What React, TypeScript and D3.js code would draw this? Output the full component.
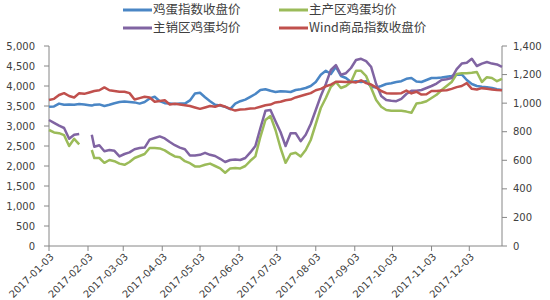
import React from "react";
import * as d3 from "d3";

const dates = [
  "2017-01-03","2017-01-07","2017-01-11","2017-01-15","2017-01-19","2017-01-23","2017-01-27","2017-01-31",
  "2017-02-04","2017-02-06","2017-02-08","2017-02-12","2017-02-16","2017-02-20","2017-02-24","2017-02-28",
  "2017-03-04","2017-03-08","2017-03-12","2017-03-16","2017-03-20","2017-03-24","2017-03-28","2017-04-01",
  "2017-04-05","2017-04-09","2017-04-13","2017-04-17","2017-04-21","2017-04-25","2017-04-29","2017-05-03",
  "2017-05-07","2017-05-11","2017-05-15","2017-05-19","2017-05-23","2017-05-27","2017-05-31","2017-06-04",
  "2017-06-08","2017-06-12","2017-06-16","2017-06-20","2017-06-24","2017-06-28","2017-07-02","2017-07-06",
  "2017-07-10","2017-07-14","2017-07-18","2017-07-22","2017-07-26","2017-07-30","2017-08-03","2017-08-07",
  "2017-08-11","2017-08-15","2017-08-19","2017-08-23","2017-08-27","2017-08-31","2017-09-04","2017-09-08",
  "2017-09-12","2017-09-16","2017-09-20","2017-09-24","2017-09-28","2017-10-02","2017-10-06","2017-10-10",
  "2017-10-14","2017-10-18","2017-10-22","2017-10-26","2017-10-30","2017-11-03","2017-11-07","2017-11-11",
  "2017-11-15","2017-11-19","2017-11-23","2017-11-27","2017-12-01","2017-12-05","2017-12-09","2017-12-13",
  "2017-12-17","2017-12-21","2017-12-25","2017-12-29"
];

const eggIndex = [
  3480,3490,3560,3530,3540,3530,3550,3540,3520,3510,3530,3540,3500,3530,3570,3600,
  3610,3600,3590,3560,3600,3690,3730,3620,3570,3560,3550,3560,3560,3640,3810,3830,
  3720,3620,3530,3510,3480,3420,3560,3620,3660,3730,3800,3900,3920,3880,3850,3870,
  3860,3850,3900,3920,3950,4000,4100,4280,4380,4300,4480,4250,4200,4100,4120,4100,
  4120,3980,3960,4000,4050,4070,4100,4120,4180,4200,4110,4100,4150,4200,4200,4210,
  4230,4250,4280,4290,4150,4050,4000,3980,3970,3950,3920,3900
];

const mainProd: (number | null)[] = [
  2900,2840,2820,2770,2500,2680,2540,null,null,2400,2200,2200,2080,2150,2120,2060,
  2030,2100,2200,2250,2300,2450,2450,2440,2390,2310,2240,2220,2120,2070,1990,1990,
  2030,2060,2000,1940,1830,1940,1950,1940,2000,2130,2240,2730,3150,3250,2900,2450,
  2080,2300,2330,2240,2400,2650,3050,3450,3700,3980,4100,3950,4000,4100,4380,4380,
  4250,3950,3650,3480,3400,3380,3380,3380,3360,3330,3560,3580,3620,3700,3780,3900,
  4000,4100,4300,4320,4320,4330,4350,4100,4220,4200,4120,4180
];

const mainSales: (number | null)[] = [
  3150,3080,3010,2950,2680,2780,2800,null,null,2780,2480,2520,2370,2400,2380,2240,
  2300,2340,2420,2450,2460,2660,2700,2740,2690,2600,2520,2460,2420,2260,2260,2280,
  2330,2280,2250,2180,2100,2150,2160,2150,2200,2340,2500,2950,3380,3400,3120,2850,
  2500,2820,2820,2620,2780,3050,3400,3750,4050,4400,4520,4280,4320,4450,4650,4680,
  4620,4480,4050,3750,3650,3630,3620,3680,3800,3880,3880,3900,3950,4000,4060,4150,
  4170,4200,4420,4560,4580,4680,4500,4560,4600,4560,4540,4480
];

const windIndex = [
  1022,1030,1057,1070,1050,1040,1070,1065,1075,1080,1085,1090,1110,1090,1085,1080,
  1080,1070,1025,1035,1045,1040,1010,1015,1020,990,995,990,985,980,970,960,
  970,980,975,987,975,960,948,955,958,962,965,975,985,990,1005,1010,
  1020,1025,1040,1050,1060,1070,1090,1100,1118,1130,1150,1150,1148,1150,1145,1160,
  1140,1130,1110,1085,1070,1068,1068,1070,1088,1068,1080,1060,1062,1085,1085,1088,
  1090,1100,1112,1120,1140,1100,1095,1105,1100,1095,1092,1090
];

const leftTicks = [0, 500, 1000, 1500, 2000, 2500, 3000, 3500, 4000, 4500, 5000];
const rightTicks = [0, 200, 400, 600, 800, 1000, 1200, 1400];
const xTickLabels = [
  "2017-01-03","2017-02-03","2017-03-03","2017-04-03","2017-05-03","2017-06-03",
  "2017-07-03","2017-08-03","2017-09-03","2017-10-03","2017-11-03","2017-12-03"
];

const seriesNames = ["鸡蛋指数收盘价", "主产区鸡蛋均价", "主销区鸡蛋均价", "Wind商品指数收盘价"];
const colors = ["#4A86C5", "#9BBB59", "#8064A2", "#C0504D"];

export default function App() {
  const W = 550, H = 300;
  const x0 = 49, x1 = 502, yTop = 46, yBot = 246;
  const parse = d3.timeParse("%Y-%m-%d");
  const x = d3.scaleTime()
    .domain([parse("2017-01-03") as Date, parse("2017-12-29") as Date])
    .range([x0, x1]);
  const yL = d3.scaleLinear().domain([0, 5000]).range([yBot, yTop]);
  const yR = d3.scaleLinear().domain([0, 1400]).range([yBot, yTop]);

  const mk = (vals: (number | null)[], y: d3.ScaleLinear<number, number>) =>
    d3.line<number | null>()
      .defined((v) => v != null)
      .x((_, i) => x(parse(dates[i]) as Date))
      .y((v) => y(v as number))(vals) || "";

  const paths = [
    mk(eggIndex, yL),
    mk(mainProd, yL),
    mk(mainSales, yL),
    mk(windIndex, yR),
  ];

  const axisColor = "#868686";
  const font = "'DejaVu Sans', sans-serif";
  const cjk = "'Noto Sans CJK SC', sans-serif";

  const legendPos = [
    { lx: 123, ty: 10 },
    { lx: 279, ty: 10 },
    { lx: 123, ty: 28 },
    { lx: 279, ty: 28 },
  ];

  return (
    <svg width={W} height={H} style={{ position: "absolute", left: 0, top: 0, background: "#fff" }}>
      {/* legend */}
      {seriesNames.map((n, i) => (
        <g key={n}>
          <line x1={legendPos[i].lx} x2={legendPos[i].lx + 29} y1={legendPos[i].ty} y2={legendPos[i].ty}
            stroke={colors[i]} strokeWidth={3} />
          <text x={legendPos[i].lx + 30} y={legendPos[i].ty} dy="0.35em" fontFamily={cjk} fontSize={12.5} fill="#404040">{n}</text>
        </g>
      ))}

      {/* left axis */}
      <line x1={x0} x2={x0} y1={yTop} y2={yBot} stroke={axisColor} strokeWidth={1} />
      {leftTicks.map((t) => (
        <g key={"l" + t}>
          <line x1={x0 - 5} x2={x0} y1={yL(t)} y2={yL(t)} stroke={axisColor} />
          <text x={35} y={yL(t)} dy="0.35em" textAnchor="end" fontFamily={font} fontSize={10} fill="#404040">
            {d3.format(",")(t)}
          </text>
        </g>
      ))}

      {/* right axis */}
      <line x1={x1} x2={x1} y1={yTop} y2={yBot} stroke={axisColor} strokeWidth={1} />
      {rightTicks.map((t) => (
        <g key={"r" + t}>
          <line x1={x1} x2={x1 + 5} y1={yR(t)} y2={yR(t)} stroke={axisColor} />
          <text x={513} y={yR(t)} dy="0.35em" textAnchor="start" fontFamily={font} fontSize={10} fill="#404040">
            {d3.format(",")(t)}
          </text>
        </g>
      ))}

      {/* bottom axis */}
      <line x1={x0} x2={x1} y1={yBot} y2={yBot} stroke={axisColor} strokeWidth={1} />
      {xTickLabels.map((s) => {
        const xx = x(parse(s) as Date);
        return (
          <g key={s}>
            <line x1={xx} x2={xx} y1={yBot} y2={yBot + 5} stroke={axisColor} />
            <text transform={`translate(${xx + 3},${yBot + 9}) rotate(-45)`} textAnchor="end" dy="0.35em"
              fontFamily={font} fontSize={10} fill="#404040">{s}</text>
          </g>
        );
      })}

      {/* series */}
      {paths.map((p, i) => (
        <path key={i} d={p} fill="none" stroke={colors[i]} strokeWidth={2.5} strokeLinejoin="round" />
      ))}
    </svg>
  );
}
